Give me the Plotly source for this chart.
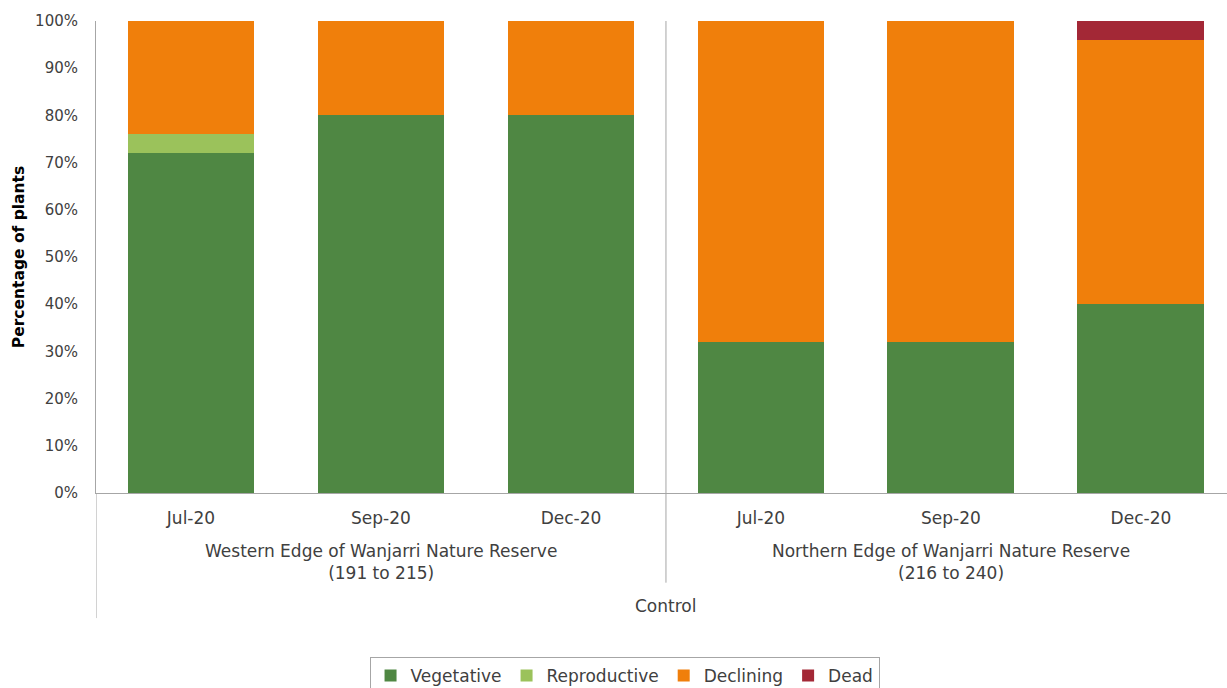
import plotly.graph_objects as go

# Survey periods and site groups
months = ["Jul-20", "Sep-20", "Dec-20", "Jul-20", "Sep-20", "Dec-20"]
sites = [
    "Western Edge of Wanjarri Nature Reserve<br>(191 to 215)",
    "Northern Edge of Wanjarri Nature Reserve<br>(216 to 240)",
]
treatment = "Control"

# Percentage of plants in each condition class
vegetative = [72, 80, 80, 32, 32, 40]
reproductive = [4, 0, 0, 0, 0, 0]
declining = [24, 20, 20, 68, 68, 56]
dead = [0, 0, 0, 0, 0, 4]

series = [
    ("Vegetative", vegetative, "#4f8743"),
    ("Reproductive", reproductive, "#9bc25b"),
    ("Declining", declining, "#f07f0b"),
    ("Dead", dead, "#a32836"),
]

FONT = "DejaVu Sans"
TXT = "#404040"
AXIS = "#a6a6a6"

xpos = list(range(len(months)))
per_site = len(months) // len(sites)

fig = go.Figure()
for name, vals, color in series:
    fig.add_trace(go.Bar(
        x=xpos, y=vals, name=name,
        marker=dict(color=color, line=dict(width=0)),
    ))

fig.update_layout(
    barmode="stack",
    bargap=0.332,
    width=1227, height=688,
    margin=dict(l=96, r=0, t=21, b=195),
    paper_bgcolor="white", plot_bgcolor="white",
    font=dict(family=FONT, size=15, color=TXT),
    showlegend=True,
    legend=dict(
        orientation="h",
        xref="container", yref="container",
        x=0.509, xanchor="center",
        y=1 - 657 / 688, yanchor="top",
        bordercolor=AXIS, borderwidth=1,
        font=dict(family=FONT, size=17, color=TXT),
        itemwidth=30,
        traceorder="normal",
    ),
)

# The category axis runs slightly past the right edge of the canvas
fig.update_xaxes(
    range=[-0.5, 5.453],
    tickvals=xpos, ticktext=months,
    tickfont=dict(size=17),
    ticks="", ticklabelstandoff=10,
    showline=True, linecolor=AXIS, linewidth=1,
    showgrid=False, zeroline=False, fixedrange=True,
)
fig.update_yaxes(
    range=[0, 100], dtick=10, ticksuffix="%",
    ticks="", ticklabelstandoff=14,
    showline=True, linecolor=AXIS, linewidth=1,
    showgrid=False, zeroline=False,
    title=dict(text="<b>Percentage of plants</b>",
               font=dict(family=FONT, size=15.5, color="black"), standoff=6),
)

# Site group labels and category dividers
for i, label in enumerate(sites):
    centre = i * per_site + (per_site - 1) / 2
    fig.add_annotation(
        x=centre, xref="x", y=-0.0975, yref="paper",
        text=label, showarrow=False, yanchor="top",
        font=dict(family=FONT, size=17, color=TXT),
    )

fig.add_annotation(
    x=(len(months) - 1) / 2, xref="x", y=-0.214, yref="paper",
    text=treatment, showarrow=False, yanchor="top",
    font=dict(family=FONT, size=17, color=TXT),
)

# Left edge divider reaching through all label rows
fig.add_shape(type="line", xref="x", yref="paper",
              x0=-0.5, x1=-0.5, y0=0, y1=-0.265,
              line=dict(color=AXIS, width=1))
# Divider between site groups
for i in range(1, len(sites)):
    xb = i * per_site - 0.5
    fig.add_shape(type="line", xref="x", yref="paper",
                  x0=xb, x1=xb, y0=1, y1=-0.19,
                  line=dict(color=AXIS, width=1))

fig.write_html("out.html")
